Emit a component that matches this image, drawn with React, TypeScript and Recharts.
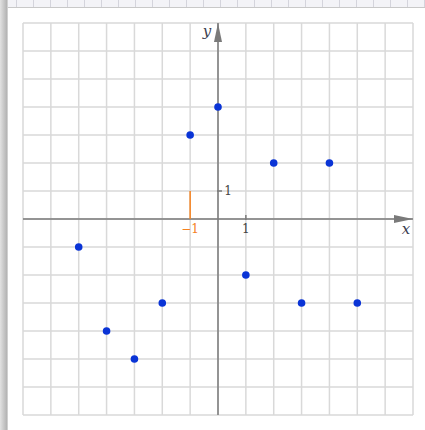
import React from "react";
import {
  ScatterChart,
  Scatter,
  XAxis,
  YAxis,
  ReferenceLine,
  ReferenceDot,
} from "recharts";

const pointX = [0, -1, 2, 4, -5, -4, -3, -2, 1, 3, 5];
const pointY = [4, 3, 2, 2, -1, -4, -5, -3, -2, -3, -3];
const gridTicks = [-7, -6, -5, -4, -3, -2, -1, 0, 1, 2, 3, 4, 5, 6, 7];
const axisMin = -7;
const axisMax = 7;
const unitTickX = 1;
const unitTickY = 1;
const markedX = -1;
const markedLabel = "\u22121";

const data = pointX.map((x, i) => ({ x, y: pointY[i] }));

const AXIS = "#7a7a7a";
const GRID = "#d9d9d9";
const ORANGE = "#f5821f";
const DOT = "#0a34d6";
const LABEL = "#444";

const YArrow = (p: any) => (
  <g>
    <polygon
      points={`${p.cx},${p.cy} ${p.cx - 4},${p.cy + 19} ${p.cx + 4},${p.cy + 19}`}
      fill={AXIS}
    />
    <text
      x={p.cx - 11}
      y={p.cy + 13}
      textAnchor="middle"
      fontFamily="'DejaVu Serif', serif"
      fontStyle="italic"
      fontSize={15}
      fill="#3b4050"
    >
      y
    </text>
  </g>
);

const XArrow = (p: any) => (
  <g>
    <polygon
      points={`${p.cx},${p.cy} ${p.cx - 19},${p.cy - 4} ${p.cx - 19},${p.cy + 4}`}
      fill={AXIS}
    />
    <text
      x={p.cx - 7}
      y={p.cy + 15}
      textAnchor="middle"
      fontFamily="'DejaVu Serif', serif"
      fontStyle="italic"
      fontSize={15}
      fill="#3b4050"
    >
      x
    </text>
  </g>
);

const XUnit = (p: any) => (
  <g>
    <line x1={p.cx} y1={p.cy - 4} x2={p.cx} y2={p.cy + 1} stroke={AXIS} strokeWidth={1.5} />
    <text
      x={p.cx}
      y={p.cy + 14}
      textAnchor="middle"
      fontFamily="'DejaVu Serif', serif"
      fontSize={12}
      fill={LABEL}
    >
      1
    </text>
  </g>
);

const YUnit = (p: any) => (
  <g>
    <line x1={p.cx - 1} y1={p.cy} x2={p.cx + 4} y2={p.cy} stroke={AXIS} strokeWidth={1.5} />
    <text
      x={p.cx + 10}
      y={p.cy + 4}
      textAnchor="middle"
      fontFamily="'DejaVu Serif', serif"
      fontSize={12}
      fill={LABEL}
    >
      1
    </text>
  </g>
);

const MarkLabel = (p: any) => (
  <text
    x={p.cx}
    y={p.cy + 14}
    textAnchor="middle"
    fontFamily="'DejaVu Serif', serif"
    fontSize={12}
    fill={ORANGE}
  >
    {markedLabel}
  </text>
);

const Dot = (p: any) => <circle cx={p.cx} cy={p.cy} r={3.8} fill={DOT} />;

export default function App() {
  return (
    <div style={{ position: "relative", width: 425, height: 430, overflow: "hidden", background: "#fff" }}>
      <style>{"body{margin:0}"}</style>
      <div
        style={{
          position: "absolute",
          left: 0,
          top: 0,
          width: 425,
          height: 7,
          background:
            "repeating-linear-gradient(90deg, #f3f3f7 0px, #f3f3f7 16px, #d4d4dc 16px, #d4d4dc 17px)",
          borderBottom: "1px solid #c8c8c8",
        }}
      />
      <div
        style={{
          position: "absolute",
          left: 0,
          top: 0,
          width: 7,
          height: 430,
          background: "linear-gradient(90deg, #e2e2e2, #b2b2b2)",
          borderRight: "1px solid #d0d0d0",
        }}
      />
      <div style={{ position: "absolute", left: 0, top: 0 }}>
        <ScatterChart
          width={425}
          height={430}
          margin={{ top: 23, right: 12, bottom: 15, left: 23 }}
        >
          <XAxis
            type="number"
            dataKey="x"
            domain={[axisMin, axisMax]}
            ticks={gridTicks}
            hide
            allowDataOverflow
          />
          <YAxis
            type="number"
            dataKey="y"
            domain={[axisMin, axisMax]}
            ticks={gridTicks}
            hide
            allowDataOverflow
          />
          {gridTicks.map((t) => (
            <ReferenceLine key={`gx${t}`} x={t} stroke={GRID} strokeWidth={1.5} ifOverflow="visible" />
          ))}
          {gridTicks.map((t) => (
            <ReferenceLine key={`gy${t}`} y={t} stroke={GRID} strokeWidth={1.5} ifOverflow="visible" />
          ))}
          <ReferenceLine x={0} stroke={AXIS} strokeWidth={1.5} />
          <ReferenceLine y={0} stroke={AXIS} strokeWidth={1.5} />
          <ReferenceLine
            segment={[
              { x: markedX, y: 0 },
              { x: markedX, y: unitTickY },
            ]}
            stroke={ORANGE}
            strokeWidth={1.5}
          />
          <ReferenceDot x={0} y={axisMax} ifOverflow="visible" shape={YArrow} />
          <ReferenceDot x={axisMax} y={0} ifOverflow="visible" shape={XArrow} />
          <ReferenceDot x={unitTickX} y={0} ifOverflow="visible" shape={XUnit} />
          <ReferenceDot x={0} y={unitTickY} ifOverflow="visible" shape={YUnit} />
          <ReferenceDot x={markedX} y={0} ifOverflow="visible" shape={MarkLabel} />
          <Scatter data={data} shape={Dot} isAnimationActive={false} />
        </ScatterChart>
      </div>
    </div>
  );
}
